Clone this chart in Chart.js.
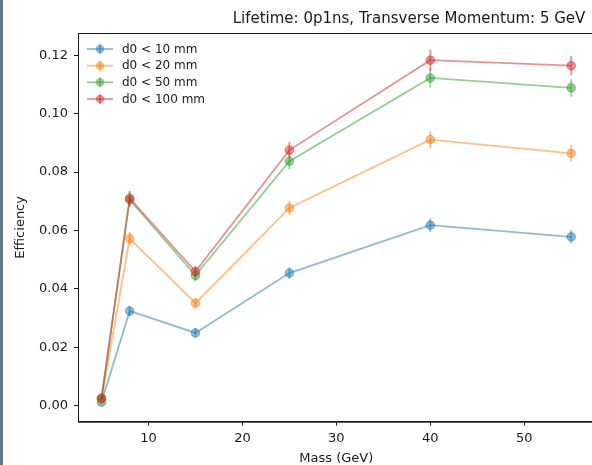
<!DOCTYPE html>
<html>
<head>
<meta charset="utf-8">
<script src="https://cdn.jsdelivr.net/npm/chart.js@4.4.0/dist/chart.umd.min.js"></script>
<style>
  html, body { margin: 0; padding: 0; background: #fff; overflow: hidden; }
  #wrap { position: relative; width: 600px; height: 465px; }
  #faixa { position: absolute; left: 0; top: 0; width: 3px; height: 465px; background: #65758a; }
</style>
</head>
<body>
<div id="wrap">
  <canvas id="grafico" width="600" height="465"></canvas>
  <div id="faixa"></div>
</div>
<script>
// Dados
const massas = [5, 8, 15, 25, 40, 55];

const efic10 = [0.0012, 0.0324, 0.0249, 0.0454, 0.0618, 0.0578];
const efic20 = [0.0020, 0.0572, 0.0351, 0.0677, 0.0911, 0.0864];
const efic50 = [0.0024, 0.0705, 0.0446, 0.0837, 0.1122, 0.1088];
const efic100 = [0.0026, 0.0710, 0.0459, 0.0875, 0.1183, 0.1164];

const erro10 = [0.0004, 0.0018, 0.0015, 0.0020, 0.0023, 0.0023];
const erro20 = [0.0005, 0.0023, 0.0018, 0.0025, 0.0029, 0.0028];
const erro50 = [0.0005, 0.0025, 0.0020, 0.0027, 0.0033, 0.0030];
const erro100 = [0.0005, 0.0025, 0.0020, 0.0028, 0.0036, 0.0033];

const rotulos = ['d0 < 10 mm', 'd0 < 20 mm', 'd0 < 50 mm', 'd0 < 100 mm'];
const cores = ['rgba(31,119,180,0.5)', 'rgba(255,127,14,0.5)', 'rgba(44,160,44,0.5)', 'rgba(214,39,40,0.5)'];

const titulo = 'Lifetime: 0p1ns, Transverse Momentum: 5 GeV';
const fonte = '"DejaVu Sans", sans-serif';
const corTexto = '#1a1a1a';

// Montar datasets
const series = [efic10, efic20, efic50, efic100];
const erros = [erro10, erro20, erro50, erro100];

const datasets = series.map((valores, i) => ({
  label: rotulos[i],
  data: massas.map((m, j) => ({ x: m, y: valores[j] })),
  erros: erros[i],
  borderColor: cores[i],
  backgroundColor: cores[i],
  pointBackgroundColor: cores[i],
  pointBorderColor: cores[i],
  pointBorderWidth: 1,
  pointRadius: 4.3,
  borderWidth: 1.8,
  tension: 0,
  order: 4 - i
}));

// Barras de erro verticais
const barrasErro = {
  id: 'barrasErro',
  afterDatasetDraw(chart, args) {
    const ds = chart.data.datasets[args.index];
    const sx = chart.scales.x, sy = chart.scales.y;
    const ctx = chart.ctx;
    ctx.save();
    ctx.strokeStyle = ds.borderColor;
    ctx.lineWidth = 1.8;
    ds.data.forEach((p, i) => {
      const px = sx.getPixelForValue(p.x);
      ctx.beginPath();
      ctx.moveTo(px, sy.getPixelForValue(p.y - ds.erros[i]));
      ctx.lineTo(px, sy.getPixelForValue(p.y + ds.erros[i]));
      ctx.stroke();
    });
    ctx.restore();
  }
};

// Moldura, título e legenda no estilo matplotlib
const extras = {
  id: 'extras',
  afterDraw(chart) {
    const ctx = chart.ctx;
    const a = chart.chartArea;
    ctx.save();
    ctx.strokeStyle = corTexto;
    ctx.lineWidth = 1;
    ctx.strokeRect(a.left + 0.5, a.top + 0.5, a.right - a.left, a.bottom - a.top);

    ctx.fillStyle = corTexto;
    ctx.font = '15px ' + fonte;
    ctx.textAlign = 'center';
    ctx.textBaseline = 'alphabetic';
    ctx.fillText(titulo, 409, 23);

    // Legenda
    const linhas = [49, 65.7, 82.3, 99];
    ctx.font = '12px ' + fonte;
    ctx.textAlign = 'left';
    ctx.textBaseline = 'middle';
    rotulos.forEach((r, i) => {
      const y = linhas[i];
      ctx.strokeStyle = cores[i];
      ctx.fillStyle = cores[i];
      ctx.lineWidth = 1.8;
      ctx.beginPath();
      ctx.moveTo(87, y);
      ctx.lineTo(113, y);
      ctx.stroke();
      ctx.beginPath();
      ctx.moveTo(100, y - 5);
      ctx.lineTo(100, y + 5);
      ctx.stroke();
      ctx.beginPath();
      ctx.arc(100, y, 4.3, 0, Math.PI * 2);
      ctx.fill();
      ctx.fillStyle = corTexto;
      ctx.fillText(r, 122, y + 0.5);
    });
    ctx.restore();
  }
};

new Chart(document.getElementById('grafico').getContext('2d'), {
  type: 'line',
  data: { datasets: datasets },
  plugins: [barrasErro, extras],
  options: {
    responsive: false,
    animation: false,
    devicePixelRatio: 1,
    layout: { padding: { left: 0, top: 33, right: 3, bottom: 0 } },
    plugins: {
      legend: { display: false },
      tooltip: { enabled: false },
      title: { display: false }
    },
    scales: {
      x: {
        type: 'linear',
        min: 2.5,
        max: 57.5,
        afterFit: function(scale) { scale.height = 43.3; },
        ticks: {
          stepSize: 10,
          includeBounds: false,
          color: corTexto,
          font: { family: fonte, size: 13 },
          padding: 5,
          maxRotation: 0,
          callback: function(value) { return value; }
        },
        grid: { display: true, drawOnChartArea: false, drawTicks: true, tickLength: 4, color: corTexto },
        border: { display: true, color: corTexto, width: 1 },
        title: {
          display: true,
          text: 'Mass (GeV)',
          color: corTexto,
          font: { family: fonte, size: 13 },
          padding: { top: 0, bottom: -1.5 }
        }
      },
      y: {
        type: 'linear',
        min: -0.0055,
        max: 0.1276,
        afterFit: function(scale) { scale.width = 78; },
        ticks: {
          stepSize: 0.02,
          includeBounds: false,
          color: corTexto,
          font: { family: fonte, size: 13 },
          padding: 6,
          callback: function(value) {
            if (Math.abs(value) < 1e-9) value = 0;
            return value.toFixed(2);
          }
        },
        grid: { display: true, drawOnChartArea: false, drawTicks: true, tickLength: 4, color: corTexto },
        border: { display: true, color: corTexto, width: 1 },
        title: {
          display: true,
          text: 'Efficiency',
          color: corTexto,
          font: { family: fonte, size: 13 },
          padding: { top: 12.5, bottom: 0 }
        }
      }
    }
  }
});
</script>
</body>
</html>
